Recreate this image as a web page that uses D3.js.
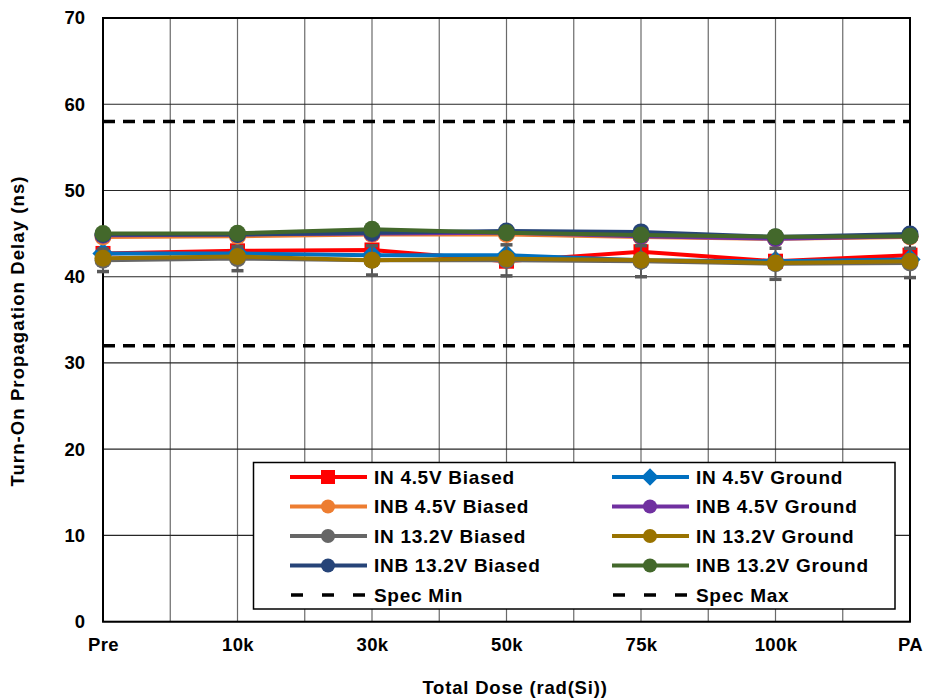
<!DOCTYPE html>
<html>
<head>
<meta charset="utf-8">
<script src="https://cdn.jsdelivr.net/npm/d3@7"></script>
<style>
  html, body { margin: 0; padding: 0; background: #fff; }
  svg { display: block; font-family: Arial, "Liberation Sans", sans-serif; }
</style>
</head>
<body>
<svg id="chart" width="927" height="698"></svg>
<script>
// ---------- data ----------
const categories = ["Pre", "10k", "30k", "50k", "75k", "100k", "PA"];
const yTicks = [0, 10, 20, 30, 40, 50, 60, 70];

const in45Biased   = [42.7, 43.0, 43.1, 41.8, 42.9, 41.8, 42.5];
const in45Ground   = [42.7, 42.7, 42.5, 42.5, 41.9, 41.8, 42.0];
const inb45Biased  = [44.6, 44.7, 44.9, 44.9, 44.6, 44.4, 44.6];
const inb45Ground  = [44.8, 44.9, 45.0, 45.1, 44.7, 44.4, 44.7];
const in132Biased  = [41.9, 42.1, 41.9, 41.9, 41.8, 41.5, 41.6];
const in132BiasedErr = [1.3, 1.4, 1.7, 1.8, 1.8, 1.8, 1.7];
const in132Ground  = [42.15, 42.35, 41.9, 42.1, 41.95, 41.6, 41.8];
const inb132Biased = [44.9, 44.9, 45.1, 45.3, 45.2, 44.6, 44.95];
const inb132Ground = [45.0, 45.05, 45.5, 45.1, 44.85, 44.65, 44.7];
const specMin = 32;
const specMax = 58;

const seriesNames  = ["IN 4.5V Biased", "IN 4.5V Ground", "INB 4.5V Biased", "INB 4.5V Ground",
                      "IN 13.2V Biased", "IN 13.2V Ground", "INB 13.2V Biased", "INB 13.2V Ground"];
const seriesValues = [in45Biased, in45Ground, inb45Biased, inb45Ground,
                      in132Biased, in132Ground, inb132Biased, inb132Ground];
const seriesColors = ["#FF0000", "#0070C0", "#ED7D31", "#7030A0",
                      "#666666", "#997300", "#264478", "#43682B"];
const seriesMarkers = ["square", "diamond", "circle", "circle", "circle", "circle", "circle", "circle"];

// ---------- layout ----------
const svg = d3.select("#chart");
const m = { left: 103, right: 910, top: 18, bottom: 621.7 };

const x = d3.scalePoint().domain(categories).range([m.left, m.right]);
const y = d3.scaleLinear().domain([0, 70]).range([m.bottom, m.top]);
const step = x.step();

// gridlines vertical (including half steps)
const vGrid = [];
categories.forEach((c, i) => { vGrid.push(x(c)); if (i < categories.length - 1) vGrid.push(x(c) + step / 2); });
svg.append("g").selectAll("line").data(vGrid).join("line")
  .attr("x1", d => d).attr("x2", d => d)
  .attr("y1", m.top).attr("y2", m.bottom)
  .attr("stroke", "#6a6a6a").attr("stroke-width", 1.2);

// horizontal gridlines
svg.append("g").selectAll("line").data(yTicks).join("line")
  .attr("x1", m.left).attr("x2", m.right)
  .attr("y1", d => y(d)).attr("y2", d => y(d))
  .attr("stroke", "#262626").attr("stroke-width", 1.2);

// frame
svg.append("rect").attr("x", m.left).attr("y", m.top)
  .attr("width", m.right - m.left).attr("height", m.bottom - m.top)
  .attr("fill", "none").attr("stroke", "#000").attr("stroke-width", 2);

// y axis labels
const yAxis = d3.axisLeft(y).tickValues(yTicks).tickSize(0).tickPadding(18);
const yg = svg.append("g").attr("transform", `translate(${m.left},0)`).call(yAxis);
yg.select(".domain").remove();
yg.selectAll("text").attr("font-size", 18.5).attr("font-weight", "bold").attr("fill", "#000")
  .attr("font-family", "Arial, 'Liberation Sans', sans-serif");

// x axis labels
const xAxis = d3.axisBottom(x).tickSize(0).tickPadding(16);
const xg = svg.append("g").attr("transform", `translate(0,${m.bottom})`).call(xAxis);
xg.select(".domain").remove();
xg.selectAll("text").attr("font-size", 18.5).attr("font-weight", "bold").attr("fill", "#000")
  .attr("letter-spacing", 0.4)
  .attr("font-family", "Arial, 'Liberation Sans', sans-serif");

// axis titles
svg.append("text").attr("x", 515).attr("y", 694).attr("text-anchor", "middle")
  .attr("font-size", 18.5).attr("font-weight", "bold").attr("letter-spacing", 0.8).text("Total Dose (rad(Si))");
svg.append("text").attr("transform", "translate(24,331) rotate(-90)").attr("text-anchor", "middle")
  .attr("font-size", 18.5).attr("font-weight", "bold").attr("letter-spacing", 1.1).text("Turn-On Propagation Delay (ns)");

// spec lines
[specMin, specMax].forEach(v => {
  svg.append("line").attr("x1", m.left).attr("x2", m.right)
    .attr("y1", y(v)).attr("y2", y(v))
    .attr("stroke", "#000").attr("stroke-width", 3.5).attr("stroke-dasharray", "12,8");
});

// marker drawer
function drawMarker(g, type, cx, cy, color, size) {
  if (type === "square") {
    g.append("rect").attr("x", cx - size).attr("y", cy - size)
      .attr("width", size * 2).attr("height", size * 2).attr("fill", color);
  } else if (type === "diamond") {
    const s = size * 1.25;
    g.append("path").attr("d", `M${cx},${cy - s}L${cx + s},${cy}L${cx},${cy + s}L${cx - s},${cy}Z`).attr("fill", color);
  } else {
    g.append("circle").attr("cx", cx).attr("cy", cy).attr("r", size).attr("fill", color);
  }
}

const line = d3.line().x((d, i) => x(categories[i])).y(d => y(d));
const plot = svg.append("g");
seriesValues.forEach((vals, si) => {
  const g = plot.append("g");
  g.append("path").datum(vals).attr("d", line)
    .attr("fill", "none").attr("stroke", seriesColors[si]).attr("stroke-width", 4)
    .attr("stroke-linejoin", "round");
  if (seriesNames[si] === "IN 13.2V Biased") {
    vals.forEach((v, i) => {
      const cx = x(categories[i]);
      const e = in132BiasedErr[i];
      g.append("line").attr("x1", cx).attr("x2", cx).attr("y1", y(v - e)).attr("y2", y(v + e))
        .attr("stroke", "#595959").attr("stroke-width", 2);
      [v - e, v + e].forEach(w => {
        g.append("line").attr("x1", cx - 6).attr("x2", cx + 6).attr("y1", y(w)).attr("y2", y(w))
          .attr("stroke", "#595959").attr("stroke-width", 3.5);
      });
    });
  }
  vals.forEach((v, i) => {
    drawMarker(g, seriesMarkers[si], x(categories[i]), y(v), seriesColors[si], seriesMarkers[si] === "square" ? 7.5 : 8.5);
  });
});

// legend
const legend = svg.append("g");
legend.append("rect").attr("x", 253.5).attr("y", 462.5).attr("width", 641.5).attr("height", 146.5)
  .attr("fill", "#fff").attr("stroke", "#000").attr("stroke-width", 1.5);
const rowY = [477, 506.5, 536, 565.5, 595];
const colX = [290, 612];
const legendItems = [];
seriesNames.forEach((n, i) => legendItems.push({ name: n, color: seriesColors[i], marker: seriesMarkers[i], col: i % 2, row: Math.floor(i / 2) }));
legendItems.push({ name: "Spec Min", color: "#000", marker: null, dash: true, col: 0, row: 4 });
legendItems.push({ name: "Spec Max", color: "#000", marker: null, dash: true, col: 1, row: 4 });
legendItems.forEach(it => {
  const x0 = colX[it.col], yy = rowY[it.row];
  const l = legend.append("line").attr("x1", x0).attr("x2", x0 + 77).attr("y1", yy).attr("y2", yy)
    .attr("stroke", it.color).attr("stroke-width", it.dash ? 3.5 : 4);
  if (it.dash) l.attr("stroke-dasharray", "12,19").attr("x1", x0 + 1);
  if (it.marker) drawMarker(legend, it.marker, x0 + 38, yy, it.color, 7);
  legend.append("text").attr("x", x0 + 84).attr("y", yy + 6.5)
    .attr("font-size", 19).attr("font-weight", "bold").attr("letter-spacing", 0.7)
    .attr("fill", "#000").text(it.name);
});
</script>
</body>
</html>
